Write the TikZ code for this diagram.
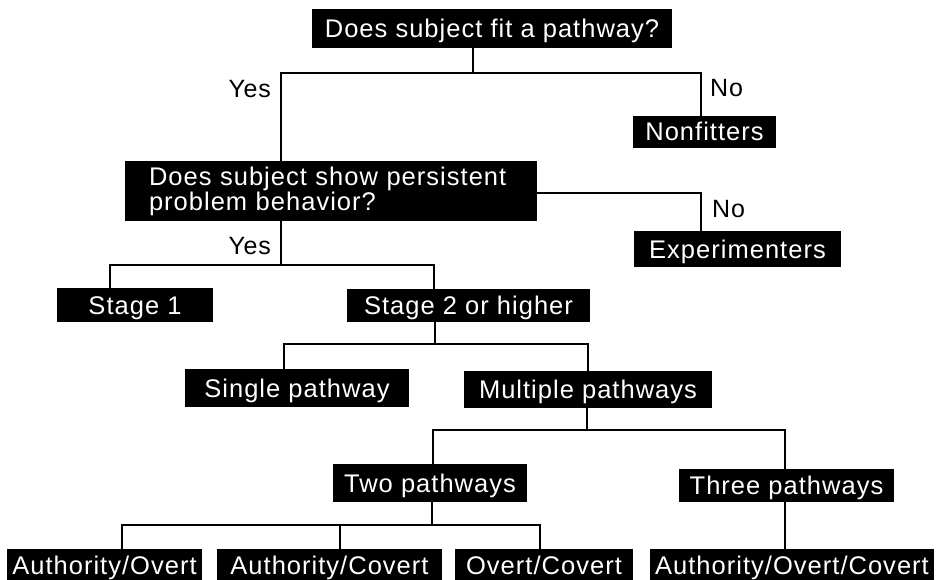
\documentclass[tikz,border=0pt]{standalone}
\usepackage{fontspec}
\newfontfamily\boxfont{Liberation Sans}[LetterSpace=4]
\newfontfamily\lblfont{Liberation Sans}[LetterSpace=3]
\begin{document}
\begin{tikzpicture}[x=1pt,y=-1pt,
  box/.style={fill=black,text=white,inner sep=0pt,font=\boxfont\fontsize{25.5}{25}\selectfont},
  onebox/.style={box,text height=18pt,text depth=0pt},
  lbl/.style={text=black,inner sep=0pt,font=\lblfont\fontsize{25}{25}\selectfont,text height=18pt,text depth=0pt},
  conn/.style={draw=black,line width=2.7pt,line join=miter}]
\useasboundingbox (0,0) rectangle (936,580);

% boxes
\node[onebox,minimum width=360pt,minimum height=39pt] (q1) at (492,28.5) {Does subject fit a pathway?};
\node[onebox,minimum width=143pt,minimum height=32pt] (nonfit) at (704.5,132) {Nonfitters};
\node[box,text width=364pt,inner xsep=24pt,align=left,minimum height=60pt] (q2) at (331,191) {Does subject show persistent\\problem behavior?};
\node[onebox,minimum width=207pt,minimum height=36pt] (exper) at (737.5,249) {Experimenters};
\node[onebox,minimum width=156pt,minimum height=34pt] (s1) at (135,305) {Stage 1};
\node[onebox,minimum width=243pt,minimum height=33pt] (s2) at (468.5,305.5) {Stage 2 or higher};
\node[onebox,minimum width=224pt,minimum height=38pt] (single) at (297,388) {Single pathway};
\node[onebox,minimum width=248pt,minimum height=37pt] (multi) at (588,389.5) {Multiple pathways};
\node[onebox,minimum width=194pt,minimum height=38pt] (two) at (430,483) {Two pathways};
\node[onebox,minimum width=215pt,minimum height=33pt] (three) at (786.5,485.5) {Three pathways};
\node[onebox,minimum width=195pt,minimum height=33pt] (ao) at (104.5,565.5) {Authority/Overt};
\node[onebox,minimum width=225pt,minimum height=33pt] (ac) at (329.5,565.5) {Authority/Covert};
\node[onebox,minimum width=178pt,minimum height=33pt] (oc) at (544,565.5) {Overt/Covert};
\node[onebox,minimum width=284pt,minimum height=33pt] (aoc) at (792,565.5) {Authority/Overt/Covert};

% labels
\node[lbl,anchor=east] (yes1) at (271,89) {Yes};
\node[lbl,anchor=west] (no1) at (710,88) {No};
\node[lbl,anchor=east] (yes2) at (271,245) {Yes};
\node[lbl,anchor=west] (no2) at (712,208) {No};

% junction coordinates
\coordinate (ja) at (473,73);
\coordinate (ya) at (281,73);
\coordinate (na) at (701,73);
\coordinate (jb) at (281,265);
\coordinate (s1c) at (110,265);
\coordinate (s2c) at (434,265);
\coordinate (nb) at (701,193);
\coordinate (jc) at (435,344);
\coordinate (sgc) at (284,344);
\coordinate (mpc) at (588,344);
\coordinate (jd) at (587,430);
\coordinate (twc) at (433,430);
\coordinate (thc) at (785,430);
\coordinate (je) at (432,525);
\coordinate (aoj) at (122,525);
\coordinate (acj) at (340,525);
\coordinate (ocj) at (540,525);

% connectors
\draw[conn] (q1.south -| ja) -- (ja);
\draw[conn] (q2.north -| ya) -- (ya) -- (na) -- (nonfit.north -| na);
\draw[conn] (q2.south -| jb) -- (jb);
\draw[conn] (s1.north -| s1c) -- (s1c) -- (s2c) -- (s2.north -| s2c);
\draw[conn] (q2.east |- nb) -- (nb) -- (exper.north -| nb);
\draw[conn] (s2.south -| jc) -- (jc);
\draw[conn] (single.north -| sgc) -- (sgc) -- (mpc) -- (multi.north -| mpc);
\draw[conn] (multi.south -| jd) -- (jd);
\draw[conn] (two.north -| twc) -- (twc) -- (thc) -- (three.north -| thc);
\draw[conn] (two.south -| je) -- (je);
\draw[conn] (ao.north -| aoj) -- (aoj) -- (ocj) -- (oc.north -| ocj);
\draw[conn] (acj) -- (ac.north -| acj);
\draw[conn] (three.south -| thc) -- (aoc.north -| thc);
\end{tikzpicture}
\end{document}
